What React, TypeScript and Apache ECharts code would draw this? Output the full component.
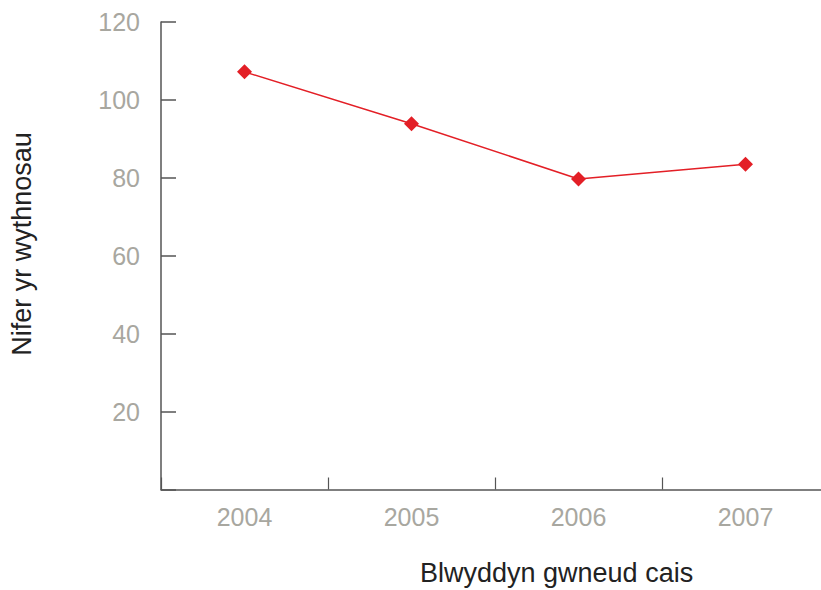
import React, { useEffect, useRef } from "react";
import * as echarts from "echarts";

const years = ["2004", "2005", "2006", "2007"];
const weeks = [107.2, 93.9, 79.7, 83.5];
const xTitle = "Blwyddyn gwneud cais";
const yTitle = "Nifer yr wythnosau";

export default function App() {
  const ref = useRef<HTMLDivElement>(null);
  useEffect(() => {
    if (!ref.current) return;
    const chart = echarts.init(ref.current, null, { renderer: "svg" });
    const axisColor = "#555555";
    const labelColor = "#a8a7a0";
    const font = "'Liberation Sans', Arial, Helvetica, sans-serif";
    chart.setOption({
      animation: false,
      grid: { left: 161, top: 22, width: 668, bottom: 100.5, containLabel: false },
      xAxis: {
        type: "category",
        data: years,
        boundaryGap: true,
        axisLine: { show: true, lineStyle: { color: axisColor, width: 1.5 } },
        axisTick: { show: true, inside: true, length: 12, lineStyle: { color: axisColor, width: 1.2 } },
        axisLabel: { color: labelColor, fontSize: 25, fontFamily: font, margin: 15 },
        splitLine: { show: false },
      },
      yAxis: {
        type: "value",
        min: 0,
        max: 120,
        interval: 20,
        axisLine: { show: true, lineStyle: { color: axisColor, width: 1.5 } },
        axisTick: { show: true, inside: true, length: 15, lineStyle: { color: axisColor, width: 1.5 } },
        axisLabel: {
          color: labelColor,
          fontSize: 25,
          fontFamily: font,
          margin: 21,
          formatter: (v: number) => (v === 0 ? "" : String(v)),
        },
        splitLine: { show: false },
      },
      graphic: [
        {
          type: "text",
          left: 420,
          top: 559,
          style: { text: xTitle, fill: "#222222", fontSize: 27, fontFamily: font },
        },
        {
          type: "text",
          x: 22,
          y: 244,
          rotation: Math.PI / 2,
          style: {
            text: yTitle,
            fill: "#222222",
            fontSize: 27,
            fontFamily: font,
            align: "center",
            verticalAlign: "middle",
          },
        },
      ],
      series: [
        {
          type: "line",
          data: weeks,
          symbol: "diamond",
          symbolSize: 15,
          lineStyle: { color: "#e31f26", width: 1.5 },
          itemStyle: { color: "#e31f26" },
        },
      ],
    });
    return () => chart.dispose();
  }, []);
  return (
    <div style={{ width: 821, height: 590, position: "absolute", left: 0, top: 0, overflow: "hidden" }}>
      <div ref={ref} style={{ width: 840, height: 590 }} />
    </div>
  );
}
